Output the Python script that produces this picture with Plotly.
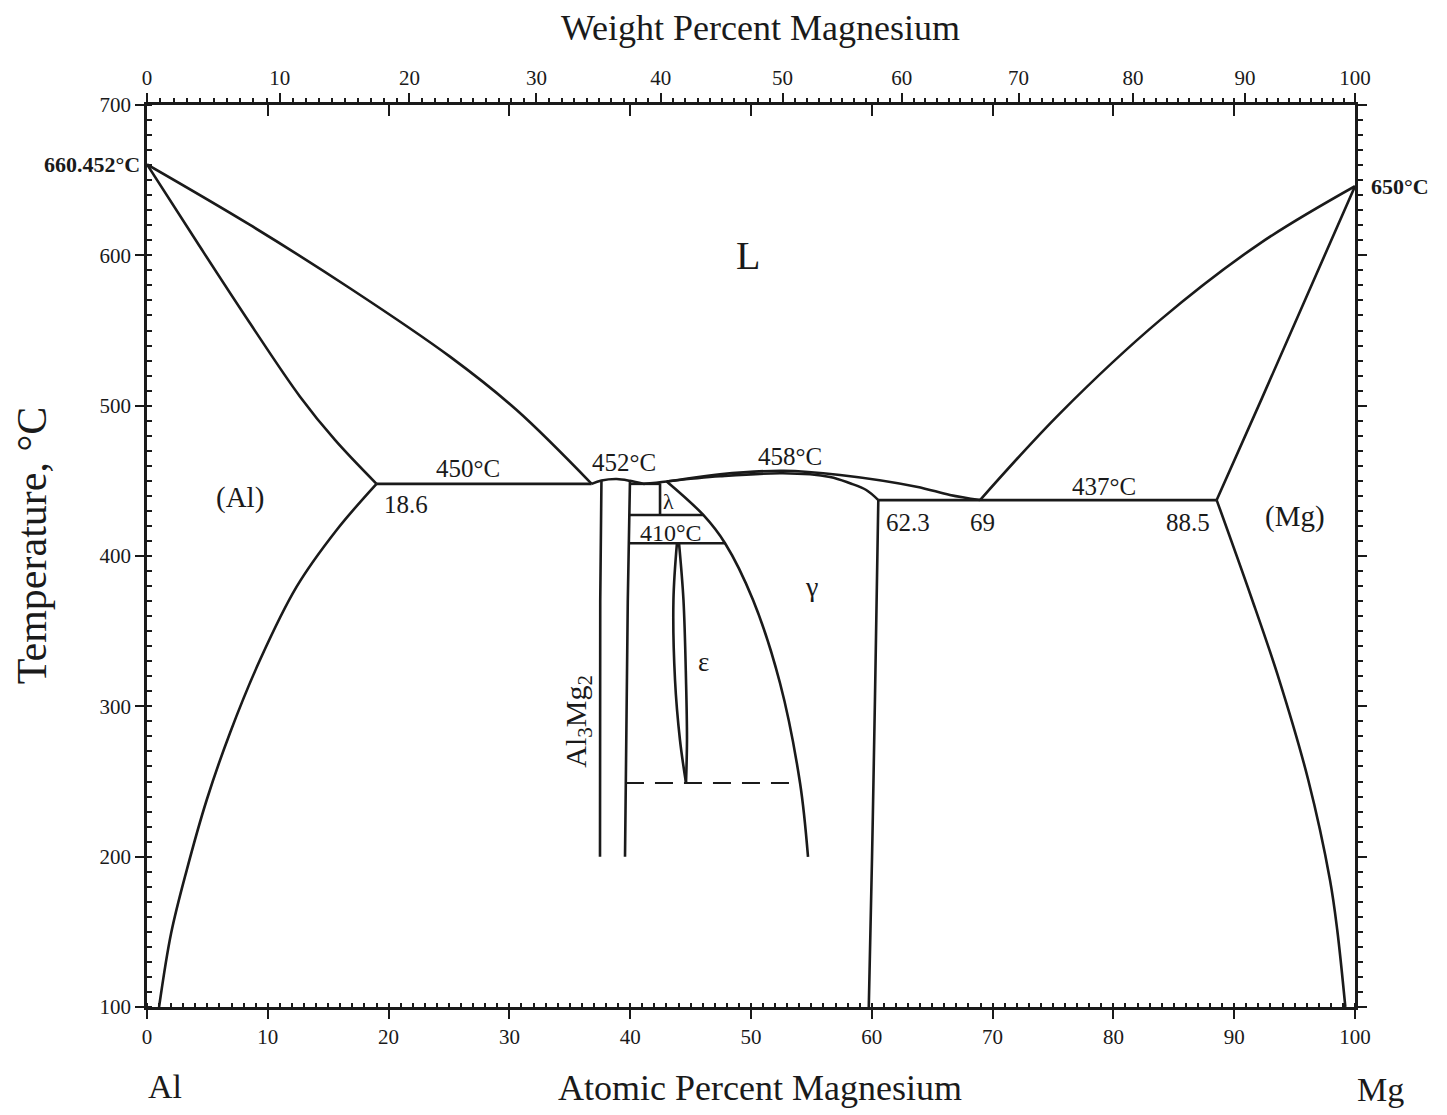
import plotly.graph_objects as go

# ---------------- data (atomic % Mg, temperature °C) ----------------
liq_al_x = [0, 8.53, 16.80, 25.08, 30.60, 36.81]
liq_al_t = [660.45, 620.2, 578.1, 532.6, 497.1, 448.0]

sol_al_x = [0, 4.2, 8.53, 12.67, 15.56, 19.0]
sol_al_t = [660.45, 608.0, 554.8, 506.0, 477.2, 448.0]

solv_al_x = [19.0, 15.70, 12.39, 9.35, 6.87, 4.94, 3.29, 2.0, 1.0]
solv_al_t = [448.0, 417.3, 379.6, 330.8, 282.3, 237.7, 191.1, 149.2, 100]

eut_al_x = [19.0, 36.81]
eut_al_t = [448.0, 448.0]

dome_x = [36.81, 37.62, 38.88, 39.98, 41.09]
dome_t = [448.0, 450.2, 451.2, 450.0, 448.0]

al3mg2_l_x = [37.62, 37.52, 37.50]
al3mg2_l_t = [450.2, 370.0, 200.0]
al3mg2_r_x = [39.98, 39.80, 39.57]
al3mg2_r_t = [450.0, 370.0, 200.0]

lam_top_x = [39.98, 42.47]
lam_top_t = [448.0, 448.0]
lam_v_x = [42.47, 42.47]
lam_v_t = [448.4, 427.3]
lam_bot_x = [39.90, 46.05]
lam_bot_t = [427.3, 427.3]
t410_x = [39.85, 47.85]
t410_t = [408.5, 408.5]

liq_g_x = [41.09, 43.02, 47.43, 52.67, 57.37, 63.7, 66.47, 68.96]
liq_g_t = [448.0, 449.6, 454.4, 456.7, 453.9, 446.1, 440.6, 437.2]

sol_g_x = [43.02, 47.43, 52.65, 56.54, 58.2, 59.54, 60.54]
sol_g_t = [449.6, 453.0, 455.0, 452.6, 448.4, 443.9, 437.2]

g_left_x = [43.02, 46.05, 47.85, 50.17, 52.40, 54.06, 54.72]
g_left_t = [449.6, 427.3, 408.5, 370.7, 315.5, 249.0, 199.8]

g_right_x = [60.54, 60.26, 60.02, 59.75]
g_right_t = [437.2, 304.2, 199.8, 100]

eps_l_x = [43.87, 43.58, 43.71, 44.12, 44.62]
eps_r_x = [44.04, 44.41, 44.62, 44.70, 44.62]
eps_t = [408.5, 370.7, 317.5, 277.6, 249.0]

dash_x = [39.65, 54.06]
dash_t = [249.0, 249.0]

eut_mg_x = [60.54, 88.55]
eut_mg_t = [437.2, 437.2]

liq_mg_x = [68.96, 75.58, 83.86, 92.14, 100]
liq_mg_t = [437.2, 494.9, 556.9, 608.0, 646.0]

sol_mg_x = [88.55, 92.30, 100]
sol_mg_t = [437.2, 505.0, 646.0]

solv_mg_x = [88.55, 91.40, 93.73, 96.13, 97.93, 98.53, 99.20]
solv_mg_t = [437.2, 372.9, 317.5, 251.0, 184.5, 151.2, 100]

at_ticks = list(range(0, 101, 10))
wt_ticks = list(range(0, 101, 10))
temp_ticks = list(range(100, 701, 100))

M_MG, M_AL = 24.305, 26.982


def wt_to_at(w):
    a = w / M_MG
    b = (100 - w) / M_AL
    return 100 * a / (a + b)


FONT = "Liberation Serif"
INK = "#1a1a1a"

fig = go.Figure()

curves = [
    (liq_al_x, liq_al_t, "spline"), (sol_al_x, sol_al_t, "spline"),
    (solv_al_x, solv_al_t, "spline"), (eut_al_x, eut_al_t, "linear"),
    (dome_x, dome_t, "spline"), (al3mg2_l_x, al3mg2_l_t, "linear"),
    (al3mg2_r_x, al3mg2_r_t, "linear"), (lam_top_x, lam_top_t, "linear"),
    (lam_v_x, lam_v_t, "linear"), (lam_bot_x, lam_bot_t, "linear"),
    (t410_x, t410_t, "linear"), (liq_g_x, liq_g_t, "spline"),
    (sol_g_x, sol_g_t, "spline"), (g_left_x, g_left_t, "spline"),
    (g_right_x, g_right_t, "spline"), (eps_l_x, eps_t, "spline"),
    (eps_r_x, eps_t, "spline"), (eut_mg_x, eut_mg_t, "linear"),
    (liq_mg_x, liq_mg_t, "spline"), (sol_mg_x, sol_mg_t, "linear"),
    (solv_mg_x, solv_mg_t, "spline"),
]
for xs, ts, shape in curves:
    fig.add_trace(go.Scatter(x=xs, y=ts, mode="lines",
                             line=dict(color=INK, width=2.6, shape=shape, smoothing=1.0),
                             hoverinfo="skip", showlegend=False))

fig.add_trace(go.Scatter(x=dash_x, y=dash_t, mode="lines",
                         line=dict(color=INK, width=2.2, dash="18px,11px"),
                         hoverinfo="skip", showlegend=False))

# helper traces so that secondary axes are drawn
fig.add_trace(go.Scatter(x=[None], y=[None], xaxis="x2", yaxis="y2", showlegend=False))
fig.add_trace(go.Scatter(x=[None], y=[None], xaxis="x3", yaxis="y", showlegend=False))

tickfont = dict(family=FONT, size=21, color=INK)

fig.update_layout(
    width=1447, height=1115,
    margin=dict(l=139, r=100, t=97, b=116),
    paper_bgcolor="white", plot_bgcolor="white",
    showlegend=False,
    xaxis=dict(range=[0, 100], tickvals=at_ticks, ticks="outside", ticklen=9, tickwidth=2,
               tickcolor=INK, showline=True, linecolor=INK, linewidth=2.5, showgrid=False,
               zeroline=False, tickfont=tickfont,
               minor=dict(dtick=1, ticks="inside", ticklen=4, tickwidth=2, tickcolor=INK)),
    yaxis=dict(range=[100, 700], tickvals=temp_ticks, ticks="outside", ticklen=9, tickwidth=2,
               tickcolor=INK, showline=True, linecolor=INK, linewidth=2.5, showgrid=False,
               zeroline=False, tickfont=tickfont,
               minor=dict(dtick=10, ticks="inside", ticklen=5, tickwidth=2, tickcolor=INK)),
    xaxis2=dict(overlaying="x", side="top", anchor="y2", range=[0, 100],
                tickvals=[wt_to_at(w) for w in wt_ticks], ticktext=[str(w) for w in wt_ticks],
                ticks="outside", ticklen=9, tickwidth=2, tickcolor=INK,
                showline=True, linecolor=INK, linewidth=2.5, showgrid=False, zeroline=False,
                tickfont=tickfont,
                minor=dict(tickvals=[wt_to_at(w) for w in range(0, 101)], ticks="outside",
                           ticklen=4, tickwidth=2, tickcolor=INK)),
    xaxis3=dict(overlaying="x", side="top", anchor="y", range=[0, 100], tickvals=at_ticks,
                ticks="inside", ticklen=11, tickwidth=2, tickcolor=INK, showticklabels=False,
                showline=False, showgrid=False, zeroline=False),
    yaxis2=dict(overlaying="y", side="right", anchor="x2", range=[100, 700], tickvals=temp_ticks,
                ticks="outside", ticklen=9, tickwidth=2, tickcolor=INK, showticklabels=False,
                showline=True, linecolor=INK, linewidth=2.5, showgrid=False, zeroline=False,
                minor=dict(dtick=10, ticks="outside", ticklen=5, tickwidth=2, tickcolor=INK)),
)


def note(text, x, y, size=25, xref="x", yref="y", xanchor="center", yanchor="middle",
         angle=0, bold=False):
    if bold:
        text = "<b>" + text + "</b>"
    fig.add_annotation(text=text, x=x, y=y, xref=xref, yref=yref, showarrow=False,
                       xanchor=xanchor, yanchor=yanchor, textangle=angle,
                       font=dict(family=FONT, size=size, color=INK))


# axis titles and element labels
note("Weight Percent Magnesium", 0.5075, 1.0854, size=36, xref="paper", yref="paper")
note("Atomic Percent Magnesium", 0.5075, -0.0898, size=36, xref="paper", yref="paper")
note("Al", 0.0149, -0.0885, size=34, xref="paper", yref="paper")
note("Mg", 1.0215, -0.0915, size=34, xref="paper", yref="paper")
note("Temperature, °C", -0.0952, 0.512, size=42, xref="paper", yref="paper", angle=-90)
note("660.452°C", -0.004, 660.45, size=22, xref="paper", xanchor="right", bold=True)
note("650°C", 1.012, 646, size=22, xref="paper", xanchor="left", bold=True)

# phase field labels
note("L", 49.75, 600.2, size=40)
note("(Al)", 7.7, 439, size=29)
note("(Mg)", 95.0, 426, size=29)
note("γ", 55.0, 379.6, size=28)
note("ε", 46.05, 329.7, size=27)
note("λ", 43.15, 436, size=22)
note("Al<sub>3</sub>Mg<sub>2</sub>", 35.7, 290, size=30, angle=-90)

# invariant labels
note("450°C", 26.6, 458.5)
note("18.6", 21.4, 434)
note("452°C", 39.5, 462)
note("458°C", 53.2, 466)
note("410°C", 43.4, 415.5, size=24)
note("437°C", 79.2, 446)
note("62.3", 63.0, 422.6)
note("69", 69.2, 422.6)
note("88.5", 86.2, 422.6)

fig.write_html("out.html")
